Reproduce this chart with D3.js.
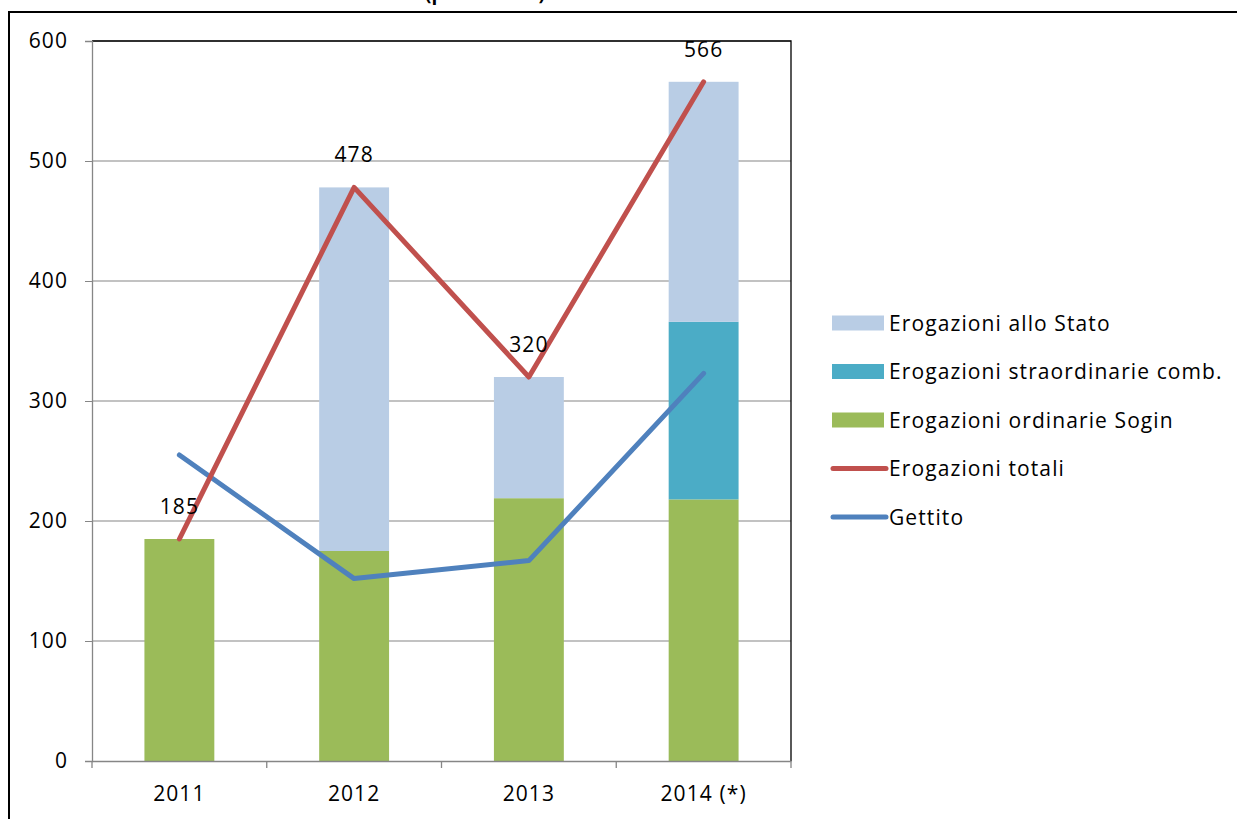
<!DOCTYPE html>
<html lang="it">
<head>
  <meta charset="UTF-8" />
  <title>Erogazioni e gettito</title>
  <style>
    html, body { margin: 0; padding: 0; background: #fff; }
    svg { display: block; font-family: "Open Sans", "Noto Sans", sans-serif; }
    .txt { font-family: "Open Sans", "Noto Sans", sans-serif; font-size: 21px; letter-spacing: 1.1px; fill: #000; }
  </style>
</head>
<body>
  <svg width="1237" height="819"></svg>
  <script src="https://d3js.org/d3.v7.min.js"></script>
  <script>
    const years = ["2011", "2012", "2013", "2014 (*)"];
    const sogin = [185, 175, 219, 218];
    const straord = [0, 0, 0, 148];
    const stato = [0, 303, 101, 200];
    const totali = [185, 478, 320, 566];
    const gettito = [255, 152, 167, 323];
    const yTicks = [0, 100, 200, 300, 400, 500, 600];

    const svg = d3.select("svg");
    const plotLeft = 92, plotRight = 791, plotTop = 41, plotBottom = 761;

    // outer frame (extends past the picture on the right and bottom)
    svg.append("rect")
      .attr("x", 9).attr("y", 12).attr("width", 1300).attr("height", 900)
      .attr("fill", "none").attr("stroke", "#000").attr("stroke-width", 2);

    // title, mostly above the picture: only its lower edge shows
    svg.append("text")
      .attr("x", 485).attr("y", 0)
      .attr("text-anchor", "middle")
      .style("font-size", "19px").style("font-weight", "bold")
      .text("(provvisorio)");

    const x = d3.scaleBand().domain(years).range([plotLeft, plotRight]).paddingInner(0.6).paddingOuter(0.3);
    const xc = d => x(d) + x.bandwidth() / 2;
    const y = d3.scaleLinear().domain([0, 600]).range([plotBottom, plotTop]);

    // gridlines
    svg.append("g")
      .selectAll("line")
      .data(yTicks.slice(1))
      .join("line")
      .attr("x1", plotLeft).attr("x2", plotRight)
      .attr("y1", d => y(d)).attr("y2", d => y(d))
      .attr("stroke", "#868686").attr("stroke-width", 1.2);

    // plot border (top and right)
    svg.append("path")
      .attr("d", `M${plotLeft},${plotTop}H${plotRight}V${plotBottom}`)
      .attr("fill", "none").attr("stroke", "#000").attr("stroke-width", 1.3);

    // stacked bars
    const rows = years.map((yr, i) => ({ year: yr, sogin: sogin[i], straord: straord[i], stato: stato[i] }));
    const keys = ["sogin", "straord", "stato"];
    const colors = { sogin: "#9BBB59", straord: "#4BACC6", stato: "#B9CDE5" };
    const stacked = d3.stack().keys(keys)(rows);

    svg.append("g")
      .selectAll("g")
      .data(stacked)
      .join("g")
      .attr("fill", s => colors[s.key])
      .selectAll("rect")
      .data(s => s)
      .join("rect")
      .attr("x", d => x(d.data.year))
      .attr("width", x.bandwidth())
      .attr("y", d => y(d[1]))
      .attr("height", d => y(d[0]) - y(d[1]));

    // axes
    const yAxis = svg.append("g")
      .attr("transform", `translate(${plotLeft},0)`)
      .call(d3.axisLeft(y).tickValues(yTicks).tickSize(7).tickPadding(17));
    yAxis.select(".domain").attr("stroke", "#868686").attr("stroke-width", 1.3);
    yAxis.selectAll(".tick line").attr("stroke", "#868686");
    yAxis.selectAll(".tick text").attr("class", "txt");

    const xAxis = svg.append("g")
      .attr("transform", `translate(0,${plotBottom})`)
      .call(d3.axisBottom(x).tickSize(0).tickPadding(25));
    xAxis.select(".domain").attr("stroke", "#868686").attr("stroke-width", 1.3);
    xAxis.selectAll(".tick text").attr("class", "txt");

    // category boundary ticks
    const step = (plotRight - plotLeft) / years.length;
    svg.append("g")
      .selectAll("line")
      .data(d3.range(years.length + 1))
      .join("line")
      .attr("x1", i => plotLeft + i * step).attr("x2", i => plotLeft + i * step)
      .attr("y1", plotBottom).attr("y2", plotBottom + 7)
      .attr("stroke", "#868686").attr("stroke-width", 1.3);

    // lines
    const line = d3.line().x((d, i) => xc(years[i])).y(d => y(d));
    svg.append("path").datum(gettito)
      .attr("d", line).attr("fill", "none")
      .attr("stroke", "#4F81BD").attr("stroke-width", 5)
      .attr("stroke-linecap", "round").attr("stroke-linejoin", "round");
    svg.append("path").datum(totali)
      .attr("d", line).attr("fill", "none")
      .attr("stroke", "#C0504D").attr("stroke-width", 5)
      .attr("stroke-linecap", "round").attr("stroke-linejoin", "round");

    // data labels on the totals
    svg.append("g")
      .selectAll("text")
      .data(totali)
      .join("text")
      .attr("class", "txt")
      .attr("text-anchor", "middle")
      .attr("x", (d, i) => xc(years[i]))
      .attr("y", d => y(d) - 25)
      .text(d => d);

    // legend
    const legendItems = [
      { name: "Erogazioni allo Stato", color: "#B9CDE5", type: "rect" },
      { name: "Erogazioni straordinarie comb.", color: "#4BACC6", type: "rect" },
      { name: "Erogazioni ordinarie Sogin", color: "#9BBB59", type: "rect" },
      { name: "Erogazioni totali", color: "#C0504D", type: "line" },
      { name: "Gettito", color: "#4F81BD", type: "line" }
    ];
    const li = svg.append("g").selectAll("g")
      .data(legendItems)
      .join("g")
      .attr("transform", (d, i) => `translate(832,${323 + i * 48.5})`);
    li.filter(d => d.type === "rect").append("rect")
      .attr("x", 0).attr("y", -7.5).attr("width", 52).attr("height", 15)
      .attr("fill", d => d.color);
    li.filter(d => d.type === "line").append("line")
      .attr("x1", 1).attr("x2", 54).attr("y1", 0).attr("y2", 0)
      .attr("stroke", d => d.color).attr("stroke-width", 5)
      .attr("stroke-linecap", "round");
    li.append("text").attr("class", "txt")
      .attr("x", 57).attr("y", 0).attr("dy", "0.36em")
      .text(d => d.name);
  </script>
</body>
</html>
